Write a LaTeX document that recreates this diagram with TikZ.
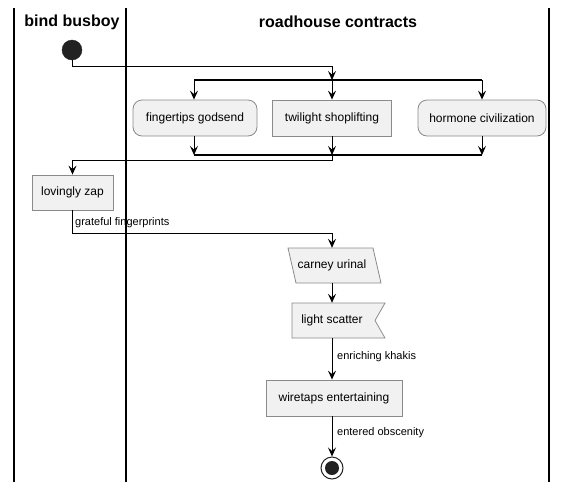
\documentclass[tikz,border=0pt]{standalone}
\usepackage{fontspec}
\setmainfont{Liberation Sans}
\usetikzlibrary{arrows.meta,calc}
\definecolor{boxfill}{HTML}{F1F1F1}
\definecolor{boxline}{HTML}{8A8A8A}
\definecolor{dark}{HTML}{222222}
\tikzset{
  lane/.style={draw=black,line width=1.2pt},
  title/.style={font=\fontsize{16}{18}\selectfont\bfseries,inner sep=0pt},
  actbox/.style={draw=boxline,fill=boxfill,line width=0.8pt,minimum height=36pt,inner sep=0pt,font=\fontsize{12}{14}\selectfont},
  roundbox/.style={actbox,rounded corners=9pt},
  ghost/.style={inner sep=0pt,minimum height=35pt,font=\fontsize{12}{14}\selectfont},
  shapeline/.style={draw=boxline,fill=boxfill,line width=0.8pt},
  conn/.style={draw=black,line width=0.9pt},
  arr/.style={conn,-{Stealth[length=9pt,width=8pt,inset=3.5pt]}},
  bar/.style={draw=black,line width=1.4pt},
  lbl/.style={font=\fontsize{11}{13}\selectfont,inner sep=0pt,anchor=west},
  startc/.style={circle,fill=dark,draw=dark,minimum size=20pt,inner sep=0pt},
}
\begin{document}
\begin{tikzpicture}[x=1pt,y=-1pt]
\useasboundingbox (0,0) rectangle (568,491);
% lanes
\draw[lane] (14,8) -- (14,482);
\draw[lane] (126,8) -- (126,482);
\draw[lane] (549,8) -- (549,482);
\node[title] (t1) at (72,22) {bind busboy};
\node[title] (t2) at (338,22) {roadhouse contracts};
% start
\node[startc] (start) at (72,50) {};
\coordinate (s1) at (332,66);
\coordinate (fk) at (332,80);
\coordinate (fkl) at (194,80);
\coordinate (fkr) at (482,80);
\draw[bar] (fkl) -- (fkr);
\draw[arr] (start) |- (s1) -- (fk);
% parallel boxes
\node[roundbox,minimum width=124pt] (fg) at (195,118) {fingertips godsend};
\node[actbox,minimum width=119pt] (tw) at (332,118) {twilight shoplifting};
\node[roundbox,minimum width=128pt] (hc) at (482,118) {hormone civilization};
\draw[arr] (fkl) -- (fg.north -| fkl);
\draw[arr] (fk) -- (tw.north);
\draw[arr] (fkr) -- (hc.north);
\coordinate (jn) at (332,155);
\coordinate (jnl) at (194,155);
\coordinate (jnr) at (482,155);
\draw[bar] (jnl) -- (jnr);
\draw[arr] (fg.south -| jnl) -- (jnl);
\draw[arr] (tw.south) -- (jn);
\draw[arr] (hc.south) -- (jnr);
% lovingly zap
\node[actbox,minimum width=81pt,minimum height=35pt] (lz) at (72.5,192.5) {lovingly zap};
\coordinate (j2) at (332,160);
\draw[arr] (jn) -- (j2) -| (lz.north);
% carney urinal
\draw[shapeline] (288,248) -- (373,248) -- (381,283) -- (296,283) -- cycle;
\node[ghost,minimum width=85pt] (cu) at (332,265.5) {carney urinal};
\coordinate (g1) at (72.5,233);
\draw[arr] (lz.south) -- (g1) -| (cu.north);
\node[lbl] (l1) at (75,223) {grateful fingerprints};
% light scatter
\draw[shapeline] (292,303) -- (385,303) -- (375,320.5) -- (385,338) -- (292,338) -- cycle;
\node[ghost,minimum width=80pt] (ls) at (332,320.5) {light scatter};
\draw[arr] (cu.south) -- (ls.north);
% wiretaps
\node[actbox,minimum width=136pt] (wt) at (334,398) {wiretaps entertaining};
\draw[arr] (ls.south) -- (ls.south |- wt.north);
\node[lbl] (l2) at (337,357) {enriching khakis};
% end
\node[circle,draw=dark,line width=1pt,fill=white,minimum size=22pt,inner sep=0pt] (endc) at (332,468) {};
\node[circle,fill=dark,minimum size=14pt,inner sep=0pt] (endi) at (332,468) {};
\draw[arr] (wt.south -| endc) -- (endc.north);
\node[lbl] (l3) at (337,433) {entered obscenity};
\end{tikzpicture}
\end{document}
